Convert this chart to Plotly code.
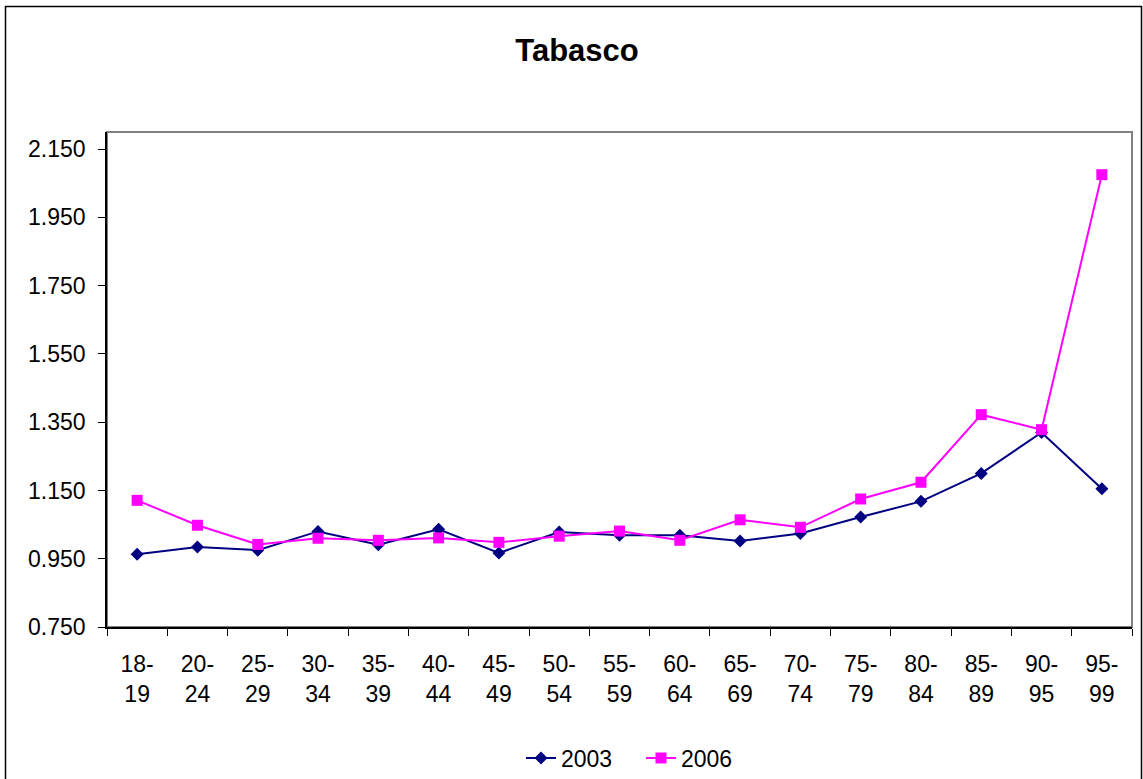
import plotly.graph_objects as go

categories = ["18-19", "20-24", "25-29", "30-34", "35-39", "40-44", "45-49", "50-54",
              "55-59", "60-64", "65-69", "70-74", "75-79", "80-84", "85-89", "90-95", "95-99"]
values_2003 = [0.963, 0.984, 0.975, 1.030, 0.991, 1.036, 0.967, 1.028,
               1.019, 1.019, 1.002, 1.024, 1.072, 1.118, 1.200, 1.320, 1.155]
values_2006 = [1.121, 1.048, 0.992, 1.010, 1.004, 1.011, 0.998, 1.016,
               1.031, 1.004, 1.064, 1.042, 1.125, 1.174, 1.372, 1.328, 2.075]
y_ticks = [0.75, 0.95, 1.15, 1.35, 1.55, 1.75, 1.95, 2.15]
tick_labels = [c.replace("-", "-<br>") for c in categories]

FONT = "Arial, Liberation Sans, sans-serif"

fig = go.Figure()
fig.add_trace(go.Scatter(
    x=categories, y=values_2003, name="2003", mode="lines+markers",
    line=dict(color="#000080", width=2),
    marker=dict(symbol="diamond", size=10, color="#000080"),
))
fig.add_trace(go.Scatter(
    x=categories, y=values_2006, name="2006", mode="lines+markers",
    line=dict(color="#FF00FF", width=2),
    marker=dict(symbol="square", size=11, color="#FF00FF"),
))

W, H = 1143, 779
L, R, T, B = 107, 11, 132, 152
pw, ph = W - L - R, H - T - B

def px_x(x):
    return (x - L) / pw

def px_y(y):
    return (H - B - y) / ph

fig.update_layout(
    width=W, height=H,
    margin=dict(l=L, r=R, t=T, b=B, autoexpand=False),
    paper_bgcolor="white", plot_bgcolor="white",
    font=dict(family=FONT, size=23, color="black"),
    title=dict(text="<b>Tabasco</b>", x=577 / W, xanchor="center",
               y=1 - 50 / H, yanchor="middle", font=dict(size=31, color="black")),
    showlegend=True,
    legend=dict(orientation="h", x=px_x(641), xanchor="center", y=px_y(758), yanchor="middle",
                font=dict(size=23), bgcolor="rgba(0,0,0,0)",
                entrywidth=75, entrywidthmode="pixels"),
    shapes=[
        dict(type="rect", xref="paper", yref="paper", x0=0, x1=1, y0=0, y1=1,
             line=dict(color="#808080", width=2), layer="below"),
        dict(type="rect", xref="paper", yref="paper", x0=px_x(5.5), x1=px_x(1141.5),
             y0=px_y(800), y1=px_y(6.5), line=dict(color="black", width=1.5), layer="below"),
    ],
)
fig.update_xaxes(
    type="category", tickmode="array", tickvals=categories, ticktext=tick_labels,
    showline=True, linecolor="black", linewidth=1.5, showgrid=False,
    ticks="outside", tickson="boundaries", ticklen=7, tickcolor="black",
    ticklabelstandoff=16, tickfont=dict(size=23), range=[-0.5, len(categories) - 0.5],
)
fig.update_yaxes(
    range=[0.75, 2.2], tickmode="array", tickvals=y_ticks,
    ticktext=[f"{v:.3f}" for v in y_ticks],
    showline=True, linecolor="black", linewidth=1.5, showgrid=False, zeroline=False,
    ticks="outside", ticklen=7, tickcolor="black", ticklabelstandoff=8,
    tickfont=dict(size=23),
)

fig.write_html("out.html", config={"displayModeBar": False},
               post_script="document.body.style.margin='0px';")
